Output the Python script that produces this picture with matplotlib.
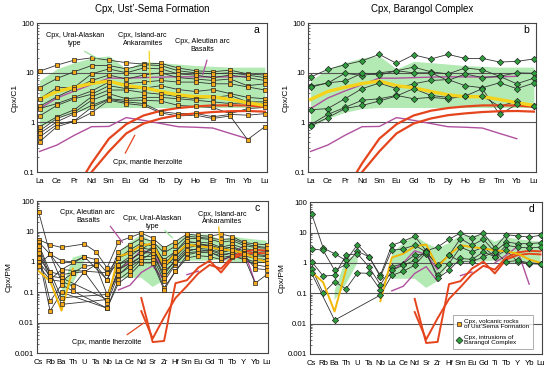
import numpy as np
import matplotlib
matplotlib.use('Agg')
import matplotlib.pyplot as plt
from matplotlib.lines import Line2D
from matplotlib.ticker import FuncFormatter, LogLocator, NullFormatter

plt.rcParams['font.family'] = ['Liberation Sans', 'DejaVu Sans']

nan = np.nan

ree = ['La', 'Ce', 'Pr', 'Nd', 'Sm', 'Eu', 'Gd', 'Tb', 'Dy', 'Ho', 'Er', 'Tm', 'Yb', 'Lu']
spider = ['Cs', 'Rb', 'Ba', 'Th', 'U', 'Ta', 'Nb', 'La', 'Ce', 'Nd', 'Sr', 'Zr', 'Hf',
          'Sm', 'Eu', 'Gd', 'Ti', 'Tb', 'Y', 'Yb', 'Lu']

# --- reference fields, chondrite normalised (panels a, b)
ural_up_ree = [7, 12, 16, 20, 22, 12, 17, 16, 15, 14, 13.5, 13, 13, 13]
ural_lo_ree = [0.8, 1.2, 1.6, 1.9, 2.0, 2.0, 2.0, 2.0, 2.0, 2.0, 2.0, 2.0, 2.0, 2.0]
ankaramite_ree = [2.9, 4.2, 5.1, 6.1, 6.8, 5.5, 5.0, 4.2, 3.6, 3.3, 3.3, 2.9, 2.5, 2.2]
aleut1_ree = [1.9, 3.1, 4.3, 5.8, 7.8, 7.8, 8.0, 8.2, 8.3, 8.3, 8.2, 8.3, 8.5, nan]
aleut2_ree = [0.26, 0.35, 0.55, 0.82, 0.83, 1.25, 1.1, 0.95, 0.82, 0.8, 0.77, 0.6, 0.47, nan]
lherz1_ree = [nan, nan, 0.04, 0.15, 0.47, 0.92, 1.38, 1.72, 1.95, 2.1, 2.2, 2.2, 2.2, 2.05]
lherz2_ree = [nan, nan, 0.03, 0.10, 0.26, 0.60, 0.95, 1.2, 1.4, 1.52, 1.62, 1.68, 1.7, 1.65]

# --- Ust'-Sema Cpx, REE (panel a)
sema_ree = [
    [10.8, 14.3, 18, 20, 18, 16, 15, 15.5, 12.5, 11, 10.5, 11.3, 9.5, 9.0],
    [5.0, 7.7, 10.5, 14, 14, 12, 14.5, 14, 11, 10, 9.5, 10, 9, 8],
    [3.0, 5.0, 5.1, 9.5, 12, 10, 12.5, 12, 9.5, 9.0, 8.0, 9, 8, 7],
    [2.1, 3.3, 4.8, 7, 9, 7.5, 9, 10, 8, 7.5, 7, 7.5, 5.5, 6],
    [1.9, 2.4, 3.2, 4.3, 6.5, 6, 6.5, 7, 6.5, 6.5, 6, 6, 5.2, 4.5],
    [1.35, 2.2, 3.0, 3.7, 5.5, 4.8, 4.9, 5.5, 4.6, 4.2, 4.6, 3.8, 3.2, 3.0],
    [0.82, 1.3, 1.8, 3.3, 4.5, 4.5, 4.0, 3.7, 3.3, 3.0, 3.2, 3.5, 2.6, 2.6],
    [0.68, 1.2, 1.6, 2.8, 3.8, 3.0, 3.2, 3.2, 3.0, 2.8, 2.6, 2.4, 2.5, 2.4],
    [0.6, 1.03, 1.5, 2.2, 3.0, 2.8, 2.8, 2.7, 2.2, 2.1, 2.0, 1.5, 1.9, 2.0],
    [0.51, 0.91, 1.08, 2.0, 2.9, 2.6, 2.4, 1.65, 1.5, 1.52, 1.3, 1.45, 1.4, 1.5],
    [0.41, 0.82, 1.05, 1.57, 2.8, 2.4, 2.2, 1.55, 1.35, 1.4, 1.2, 1.35, 0.45, 0.82],
]

# --- Barangol Cpx, REE (panel b)
bar_ree = [
    [8.2, 11.7, 14.5, 17.5, 23.5, 15.5, 23, 19, 23.5, 19.5, 19.5, 16.5, 17, 19],
    [5.4, 6.2, 9.8, 8.8, 10, 11, 13, 10.5, 9.5, 12.5, 11.5, 8.5, 10, 9.8],
    [5.1, 6.3, 6.8, 9.8, 9, 11, 10, 10, 7, 9.5, 8, 8.5, 6.0, 7.8],
    [1.8, 1.9, 3.0, 4.8, 6.2, 4.8, 6, 7, 7.3, 5.5, 5, 6.3, 4.8, 6.2],
    [0.9, 1.45, 2.0, 2.8, 3.0, 3.5, 3.0, 3.2, 3.0, 3.4, 3.4, 2.1, 2.7, 2.1],
    [0.85, 1.25, 1.9, 2.2, 2.7, 3.4, 4.8, 3.5, 3.2, 3.4, 4.8, 1.45, 2.3, 2.1],
]

# --- reference fields, primitive mantle normalised (panels c, d)
ural_up_sp = [nan, nan, 0.12, 1.4, 1.8, nan, nan, 2.0, 4.5, 8, 4.5, 3.0, 4.5,
              8, 8, 8, 5, 7, 6, 5.5, 5]
ural_lo_sp = [nan, nan, 0.06, 0.2, 1.0, nan, nan, 0.3, 0.3, 0.3, 0.15, 0.25, 0.9,
              1.1, 1.1, 1.1, 1.2, 1.0, 1.0, 1.0, 1.0]
ankaramite_sp = [0.5, 0.23, 0.025, 0.6, nan, nan, 0.055, 1.5, 2.0, 3.5, 4.0, 0.75, 1.8,
                 3.8, 3.3, 3.0, 2.6, 2.4, 2.0, 1.3, 1.0]
aleut1_sp = [nan, nan, nan, nan, nan, nan, nan, 0.12, 0.17, 0.45, 0.75, 0.25, nan,
             0.38, 0.5, nan, nan, nan, 2.5, 0.2, nan]
aleut2_sp = [nan, nan, nan, nan, nan, nan, nan, 0.55, 1.0, 2.5, 1.9, 0.6, nan,
             nan, nan, nan, 1.0, 1.8, 3.5, nan, nan]
lherz1_sp = [nan, nan, nan, nan, nan, nan, nan, nan, nan, 0.065, 0.0023, 0.0025, 0.2,
             0.25, 0.65, 1.1, 0.45, 1.3, 1.8, 2.0, 1.9]
lherz2_sp = [nan, nan, nan, nan, nan, nan, nan, nan, nan, 0.024, 0.003, 0.015, 0.065,
             0.16, 0.42, 0.8, 0.6, 1.5, 2.2, 2.5, 2.4]

# --- Ust'-Sema Cpx, spider (panel c)
sema_sp = [
    [43, 1.8, 0.56, nan, 1.5, nan, 0.26, 2.2, 3.7, 6.1, 4.7, 2.0, 3.3, 7.0, 6.5, 6.0, 5.5, 5.8, 4.0, 3.3, 3.0],
    [5.4, 3.7, 3.0, nan, 3.9, 2.2, 0.64, 4.7, 6.4, 8.9, 6.1, 2.9, 4.7, 8.3, 7.5, 7.0, 8.3, 6.8, 4.4, 3.9, 3.7],
    [4.5, 1.8, 1.1, 1.0, 1.5, 1.2, 0.44, 1.35, 2.5, 4.2, 3.3, 1.2, 2.2, 5.8, 6.0, 5.5, 4.5, 5.0, 3.5, 3.0, 2.8],
    [3.7, 0.47, 0.38, 0.44, 0.72, 0.8, 0.085, 0.82, 1.5, 2.9, 2.5, 0.64, 1.5, 4.2, 4.5, 4.2, 3.0, 3.8, 2.8, 2.4, 2.2],
    [3.3, 0.34, 0.3, nan, nan, nan, 0.058, 0.56, 1.2, 2.0, 2.0, 0.38, 1.2, 2.9, 3.5, 3.3, 2.5, 3.2, 2.3, 2.0, 1.9],
    [2.5, 0.26, 0.23, 0.16, 0.47, nan, 0.045, 0.38, 0.82, 1.5, 1.5, 0.23, 0.82, 2.2, 2.8, 2.6, 2.0, 2.6, 2.0, 1.6, 1.5],
    [2.0, 0.05, 0.18, 0.11, nan, nan, 0.03, 0.26, 0.5, 1.2, 1.2, 0.14, 0.5, 1.7, 2.1, 2.0, 1.6, 2.0, 1.6, 1.3, 1.2],
    [1.5, 0.024, 0.1, nan, nan, nan, 0.03, 0.2, 0.38, 0.93, 0.93, 0.12, 0.5, 1.35, 1.6, 1.5, 1.2, 1.5, 1.3, 1.0, 0.95],
    [1.3, 0.47, 0.066, nan, nan, nan, 0.085, 0.38, 0.7, 1.2, 2.0, 0.3, 0.9, 2.0, 2.2, 2.4, 1.8, 1.9, 1.5, 0.2, 0.38],
    [1.0, 0.34, 0.04, nan, nan, nan, 0.058, 0.56, 0.9, 1.5, 3.3, 0.5, 1.0, 2.5, 2.6, 2.2, 1.4, 1.6, 1.2, 0.8, 0.7],
    [0.8, 1.8, 0.23, 0.44, 0.47, 0.8, 0.26, 1.35, 2.0, 2.5, 4.7, 1.0, 1.5, 3.5, 3.8, 3.6, 2.8, 3.0, 2.0, 1.8, 1.6],
    [0.72, 0.26, 0.56, nan, nan, nan, 0.44, 0.82, 1.2, 2.0, 2.5, 0.8, 2.2, 4.8, 4.2, 3.2, 2.2, 2.4, 1.8, 0.6, 0.56],
]

# --- Barangol Cpx, spider (panel d)
bar_sp = [
    [41, 3.1, 2.0, 1.2, 4.0, 1.6, 0.39, 3.8, 5.2, 7.5, 2.5, 3.3, 6.0, 9.6, 6.6, 9.6, 3.1, 8.5, 7.7, 7.1, 8.1],
    [2.9, 2.6, 0.57, 0.88, 2.4, 1.6, 0.35, 2.6, 2.9, 3.8, 2.3, 0.84, 1.8, 6.3, 3.8, 6.0, 2.3, 4.9, 4.3, 4.3, 4.6],
    [1.1, 0.37, 0.39, 1.8, 2.0, 0.74, 0.19, 0.74, 0.95, 1.8, 2.0, 0.39, 0.95, 3.3, 2.3, 3.3, 1.6, 3.8, 3.3, 3.1, 3.3],
    [0.65, 0.1, 0.24, 0.14, 0.47, 0.45, 0.13, 0.57, 0.84, 1.2, 2.4, 0.31, 0.57, 1.4, 1.3, 2.3, 1.6, 2.6, 1.08, 0.95, 0.9],
    [0.45, nan, 0.013, nan, nan, nan, 0.087, 0.39, 0.53, 0.84, 2.2, 0.84, 1.8, 1.1, 1.08, 1.6, 2.3, 1.08, 1.2, 1.0, 0.95],
]

GREEN_FIELD = '#b3eab3'
YELLOW = '#f5d31c'
YELLOW2 = '#f2b705'
PURPLE = '#b0509e'
RED = '#e5451d'
SQ_FACE = '#f5a81c'
DIA_FACE = '#2f9e3c'


def draw_samples(ax, rows, marker, face, ms):
    for row in rows:
        y = np.array(row, float)
        x = np.arange(len(y))
        ok = ~np.isnan(y)
        ax.plot(x[ok], y[ok], color='#333333', lw=0.6, zorder=4)
        ax.plot(x[ok], y[ok], ls='none', marker=marker, mfc=face, mec='#222222',
                mew=0.5, ms=ms, zorder=7)


def draw_refs(ax, up, lo, ank, al1, al2, lz1, lz2, ylw, ycol, rlw):
    x = np.arange(len(up))
    ax.fill_between(x, np.array(lo, float), np.array(up, float), color=GREEN_FIELD,
                    lw=0, zorder=1)
    ax.plot(x, al1, color=PURPLE, lw=1.0, zorder=3)
    ax.plot(x, al2, color=PURPLE, lw=1.0, zorder=3)
    ax.plot(x, lz1, color=RED, lw=rlw, zorder=5)
    ax.plot(x, lz2, color=RED, lw=rlw, zorder=5)
    ax.plot(x, ank, color=ycol, lw=ylw, zorder=6)


def setup(ax, labels, ylo, ylabel, letter, grid):
    ax.set_yscale('log')
    ax.set_ylim(ylo, 100)
    n = len(labels)
    ax.set_xlim(-0.15, n - 1 + 0.12)
    ax.set_xticks(np.arange(n))
    ax.set_xticklabels(labels, fontsize=5.6)
    ax.tick_params(axis='x', length=0, pad=4)
    ax.yaxis.set_major_locator(LogLocator(base=10))
    ax.yaxis.set_minor_locator(LogLocator(base=10, subs=np.arange(2, 10)))
    ax.yaxis.set_minor_formatter(NullFormatter())
    ax.yaxis.set_major_formatter(FuncFormatter(lambda v, _: f'{v:g}'))
    ax.tick_params(axis='y', which='major', direction='in', length=3, width=0.6,
                   labelsize=5.6, pad=2)
    ax.tick_params(axis='y', which='minor', direction='in', length=1.5, width=0.4)
    ax.set_ylabel(ylabel, fontsize=6, labelpad=2)
    for g in grid:
        ax.axhline(g, color='#555555', lw=0.8, zorder=2)
    for s in ax.spines.values():
        s.set_linewidth(0.8)
        s.set_color('#444444')
    ax.text(0.955, 0.955, letter, transform=ax.transAxes, fontsize=7.5,
            ha='center', va='center')


def note(ax, text, tx, ty, color, target=None, start=None):
    ax.text(tx, ty, text, transform=ax.transAxes, fontsize=5.2, ha='center',
            va='center', linespacing=1.1, zorder=9)
    if target is not None:
        ax.annotate('', xy=target, xycoords='data', xytext=start,
                    textcoords='axes fraction',
                    arrowprops=dict(arrowstyle='-', color=color, lw=0.9), zorder=8)


fig = plt.figure(figsize=(5.5, 3.74), dpi=100)
ax_a = fig.add_axes([0.0673, 0.540, 0.418, 0.398])
ax_b = fig.add_axes([0.560, 0.540, 0.4145, 0.398])
ax_c = fig.add_axes([0.0673, 0.056, 0.420, 0.406])
ax_d = fig.add_axes([0.5636, 0.0535, 0.4218, 0.406])

# panel a
draw_refs(ax_a, ural_up_ree, ural_lo_ree, ankaramite_ree, aleut1_ree, aleut2_ree,
          lherz1_ree, lherz2_ree, 2.4, YELLOW, 1.6)
draw_samples(ax_a, sema_ree, 's', SQ_FACE, 3.0)
setup(ax_a, ree, 0.1, 'Cpx/C1', 'a', [1, 10])
ax_a.set_title('Cpx, Ust\u2019-Sema Formation', fontsize=7, pad=8)
note(ax_a, 'Cpx, Ural-Alaskan\ntype', 0.165, 0.89, '#9be09b', (3.45, 18.5), (0.196, 0.82))
note(ax_a, 'Cpx, Island-arc\nAnkaramites', 0.46, 0.89, YELLOW, (6.4, 5.3), (0.487, 0.83))
note(ax_a, 'Cpx, Aleutian arc\nBasalts', 0.72, 0.85, PURPLE, (9.37, 8.2), (0.743, 0.77))
note(ax_a, 'Cpx, mantle lherzolite', 0.483, 0.067, RED, (5.57, 0.62), (0.378, 0.11))

# panel b
draw_refs(ax_b, ural_up_ree, ural_lo_ree, ankaramite_ree, aleut1_ree, aleut2_ree,
          lherz1_ree, lherz2_ree, 2.4, YELLOW, 1.6)
draw_samples(ax_b, bar_ree, 'D', DIA_FACE, 3.2)
setup(ax_b, ree, 0.1, 'Cpx/C1', 'b', [1, 10])
ax_b.set_title('Cpx, Barangol Complex', fontsize=7, pad=8)

# panel c
draw_refs(ax_c, ural_up_sp, ural_lo_sp, ankaramite_sp, aleut1_sp, aleut2_sp,
          lherz1_sp, lherz2_sp, 1.4, YELLOW2, 1.4)
draw_samples(ax_c, sema_sp, 's', SQ_FACE, 3.0)
setup(ax_c, spider, 0.001, 'Cpx/PM', 'c', [0.01, 0.1, 1, 10])
note(ax_c, 'Cpx, Aleutian arc\nBasalts', 0.22, 0.90, PURPLE, (7.5, 3.7), (0.31, 0.85))
note(ax_c, 'Cpx, Ural-Alaskan\ntype', 0.50, 0.86, '#9be09b', (11.9, 5.4), (0.545, 0.82))
note(ax_c, 'Cpx, Island-arc\nAnkaramites', 0.80, 0.89, YELLOW2, (15.9, 3.7), (0.786, 0.85))
note(ax_c, 'Cpx, mantle lherzolite', 0.303, 0.072, RED, (9.4, 0.011), (0.38, 0.11))

# panel d
draw_refs(ax_d, ural_up_sp, ural_lo_sp, ankaramite_sp, aleut1_sp, aleut2_sp,
          lherz1_sp, lherz2_sp, 1.4, YELLOW2, 1.4)
draw_samples(ax_d, bar_sp, 'D', DIA_FACE, 3.2)
setup(ax_d, spider, 0.001, 'Cpx/PM', 'd', [0.01, 0.1, 1, 10])
handles = [
    Line2D([], [], ls='none', marker='s', mfc=SQ_FACE, mec='#222222', mew=0.5, ms=3.5),
    Line2D([], [], ls='none', marker='D', mfc=DIA_FACE, mec='#222222', mew=0.5, ms=3.5),
]
leg = ax_d.legend(handles, ['Cpx, volcanic rocks\nof Ust\u2019Sema Formation',
                            'Cpx, intrusions of\nBarangol Complex'],
                  loc='lower right', bbox_to_anchor=(0.965, 0.025), fontsize=4.6,
                  frameon=True, fancybox=False, edgecolor='#888888',
                  handletextpad=0.3, borderpad=0.55, labelspacing=0.8,
                  handlelength=0.9, borderaxespad=0.2)
leg.get_frame().set_linewidth(0.6)
leg.set_zorder(10)

fig.savefig('out.png', dpi=100)
